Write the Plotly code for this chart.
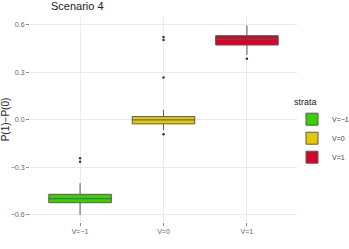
import plotly.graph_objects as go

categories = ["V=\u22121", "V=0", "V=1"]
colors = ["#38D100", "#E6C800", "#D8022A"]
q1 = [-0.523, -0.025, 0.473]
median = [-0.498, 0.0, 0.511]
q3 = [-0.470, 0.021, 0.532]
lowerfence = [-0.600, -0.063, 0.410]
upperfence = [-0.400, 0.063, 0.597]
outlier_x = ["V=\u22121", "V=\u22121", "V=0", "V=0", "V=0", "V=0", "V=1"]
outlier_y = [-0.243, -0.264, 0.268, 0.523, 0.504, -0.090, 0.386]
yticks = [-0.6, -0.3, 0.0, 0.3, 0.6]

fig = go.Figure()
for i, c in enumerate(categories):
    fig.add_trace(go.Box(
        x=[c], q1=[q1[i]], median=[median[i]], q3=[q3[i]],
        lowerfence=[lowerfence[i]], upperfence=[upperfence[i]],
        name=c, fillcolor=colors[i], line=dict(color="#5a5a5a", width=1),
        width=0.75, boxpoints=False, whiskerwidth=0, hoverinfo="y"
    ))
fig.add_trace(go.Scatter(
    x=outlier_x, y=outlier_y, mode="markers",
    marker=dict(color="#333333", size=2.5), showlegend=False, hoverinfo="y"
))

font = "Liberation Sans, Arial, sans-serif"
fig.update_layout(
    width=349, height=249,
    margin=dict(l=30, r=52, t=17, b=27, autoexpand=False),
    paper_bgcolor="white", plot_bgcolor="white",
    boxmode="overlay",
    font=dict(family=font, size=7, color="#555555"),
    title=dict(text="Scenario 4", x=51/349, xanchor="left", xref="container",
               y=1 - 2/249, yanchor="top", yref="container",
               font=dict(family=font, size=11, color="#222222")),
    legend=dict(title=dict(text="strata", font=dict(size=9, color="#222222")),
                xref="container", yref="container",
                x=292/349, xanchor="left", y=1 - 93/249, yanchor="top",
                font=dict(size=7, color="#444444"), bgcolor="rgba(0,0,0,0)",
                tracegroupgap=0, itemwidth=30),
    xaxis=dict(type="category", categoryorder="array", categoryarray=categories,
               showgrid=True, gridcolor="#EBEBEB", gridwidth=1, zeroline=False,
               ticks="outside", ticklen=3, tickcolor="#888888", automargin=False,
               tickfont=dict(size=7, color="#666666"), range=[-0.6, 2.6]),
    yaxis=dict(range=[-0.645, 0.65], tickvals=yticks, tickformat=".1f",
               showgrid=True, gridcolor="#EBEBEB", gridwidth=1, zeroline=False,
               ticks="outside", ticklen=3, tickcolor="#888888", automargin=False,
               tickfont=dict(size=7, color="#666666"),
               title=dict(text="P(1)\u2212P(0)", standoff=1,
                          font=dict(size=10, color="#222222"))),
)
fig.write_html("out.html", config={"displayModeBar": False},
               post_script="document.body.style.margin='0';document.body.style.overflow='hidden';")
